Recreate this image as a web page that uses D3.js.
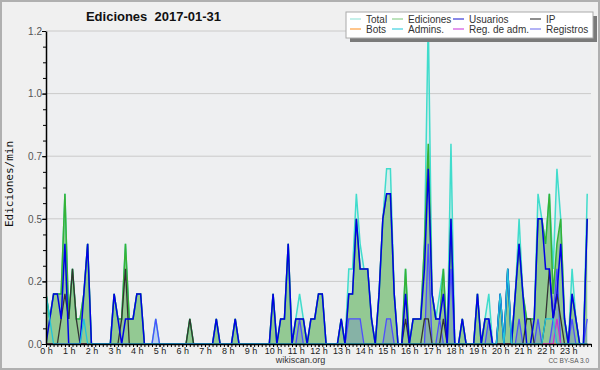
<!DOCTYPE html>
<html>
<head>
<meta charset="utf-8">
<script src="https://cdn.jsdelivr.net/npm/d3@7"></script>
<style>
    body { margin: 0; background: #f0f0f0; }
    svg { display: block; font-family: "Liberation Sans", Arial, sans-serif; }
</style>
</head>
<body>
<div id="chart"></div>
<script>
// edits per minute, 10-minute buckets, one line per hour (0 h .. 23 h)
const total = [
    0.2,0.1,0.2,0.2,0.2,0.6,  0.1,0.3,0.1,0.1,0.2,0.4,  0,0,0,0,0,0,
    0.2,0.1,0.1,0.4,0.1,0.1,  0.2,0.2,0,0,0,0.1,        0,0,0,0,0,0,
    0,0,0.1,0,0,0,            0,0,0,0.1,0,0,            0,0,0.1,0,0,0,
    0,0,0,0,0,0,              0.2,0,0.1,0.1,0.4,0,      0.1,0.2,0.1,0,0.1,0.1,
    0.2,0.2,0,0,0,0,          0.1,0,0.3,0.3,0.6,0.4,    0.3,0.3,0.1,0,0.2,0.5,
    0.7,0.7,0.2,0,0,0.3,      0,0.1,0.1,0.1,0.4,1.3,    0.2,0.1,0.2,0.3,0,0.8,
    0,0,0.1,0,0,0,            0.2,0,0.1,0.2,0,0,        0.2,0,0.3,0,0.2,0.5,
    0.2,0.1,0.1,0.1,0.6,0.5,  0.4,0.6,0.3,0.7,0.5,0.1,  0,0.3,0.1,0,0,0.6
];
const ediciones = [
    0.2,0.1,0.2,0.2,0.2,0.6,  0.1,0.3,0.1,0.1,0.2,0.4,  0,0,0,0,0,0,
    0.2,0.1,0.1,0.4,0.1,0.1,  0.2,0.2,0,0,0,0,          0,0,0,0,0,0,
    0,0,0.1,0,0,0,            0,0,0,0.1,0,0,            0,0,0.1,0,0,0,
    0,0,0,0,0,0,              0.2,0,0.1,0.1,0.4,0,      0.1,0.1,0.1,0,0.1,0.1,
    0.2,0.2,0,0,0,0,          0.1,0,0.2,0.2,0.5,0.3,    0.3,0.3,0.1,0,0.2,0.5,
    0.6,0.6,0.2,0,0,0.3,      0,0.1,0.1,0.1,0.4,0.8,    0.2,0.1,0.1,0.3,0,0.5,
    0,0,0.1,0,0,0,            0.2,0,0.1,0.1,0,0,        0.2,0,0.3,0,0.2,0.4,
    0.2,0.1,0.1,0.1,0.5,0.5,  0.4,0.6,0.2,0.4,0.5,0.1,  0,0.2,0.1,0,0,0.5
];
const usuarios = [
    0,0.1,0.2,0.2,0.1,0.4,    0,0,0,0,0.2,0.4,          0,0,0,0,0,0,
    0.2,0.1,0,0.1,0.1,0.1,    0.2,0.2,0,0,0,0,          0,0,0,0,0,0,
    0,0,0,0,0,0,              0,0,0,0.1,0,0,            0,0,0.1,0,0,0,
    0,0,0,0,0,0,              0.2,0,0.1,0.1,0.4,0,      0.1,0.1,0.1,0,0.1,0.1,
    0.2,0.2,0,0,0,0,          0.1,0,0.2,0.2,0.5,0.3,    0.3,0.3,0.1,0,0.2,0.5,
    0.6,0.6,0.2,0,0,0.2,      0,0.1,0.1,0.1,0.3,0.7,    0.2,0.1,0.1,0.2,0,0.5,
    0,0,0.1,0,0,0,            0.2,0,0.1,0.1,0,0,        0.2,0,0.3,0,0.2,0.4,
    0.2,0,0,0.1,0.5,0.5,      0.3,0.3,0.1,0.2,0.4,0.1,  0,0.2,0.1,0,0,0.5
];
const ip = [
    0,0,0,0,0.1,0.2,          0.1,0.3,0.1,0,0,0,        0,0,0,0,0,0,
    0,0,0.1,0.3,0,0,          0,0,0,0,0,0,              0,0,0,0,0,0,
    0,0,0.1,0,0,0,            0,0,0,0,0,0,              0,0,0,0,0,0,
    0,0,0,0,0,0,              0,0,0,0,0,0,              0,0,0,0,0,0,
    0,0,0,0,0,0,              0,0,0,0,0,0,              0,0,0,0,0,0,
    0,0,0,0,0,0.1,            0,0,0,0,0.1,0.1,          0,0,0,0.1,0,0,
    0,0,0,0,0,0,              0,0,0,0,0,0,              0,0,0,0,0,0,
    0,0.1,0.1,0,0,0,          0.1,0.3,0.1,0.2,0.1,0,    0,0,0,0,0,0
];
const bots = [
    0,0,0,0,0,0, 0,0,0,0,0,0, 0,0,0,0,0,0, 0,0,0,0,0,0, 0,0,0,0,0,0, 0,0,0,0,0,0,
    0,0,0,0,0,0, 0,0,0,0,0,0, 0,0,0,0,0,0, 0,0,0,0,0,0, 0,0,0,0,0,0, 0,0,0,0,0,0,
    0,0,0,0,0,0, 0,0,0,0,0,0, 0,0,0,0,0,0, 0,0,0,0,0,0, 0,0,0,0,0,0, 0,0,0,0,0,0,
    0,0,0,0,0,0, 0,0,0,0,0,0, 0,0,0,0,0,0, 0,0,0,0,0,0, 0,0,0,0,0,0, 0,0,0,0,0,0
];
const admins = [
    0.2,0.1,0,0,0,0,          0,0,0,0,0.1,0,            0,0,0,0,0,0,
    0,0,0,0,0,0,              0,0,0,0,0,0,              0,0,0,0,0,0,
    0,0,0,0,0,0,              0,0,0,0,0,0,              0,0,0,0,0,0,
    0,0,0,0,0,0,              0,0,0,0,0,0,              0,0,0,0,0,0,
    0,0,0,0,0,0,              0,0,0,0,0,0,              0,0,0,0,0,0,
    0,0,0,0,0,0,              0,0,0,0,0,0,              0,0,0,0,0,0,
    0,0,0,0,0,0,              0,0,0,0,0,0,              0.2,0,0.3,0,0,0,
    0,0,0,0,0,0,              0.1,0.1,0.1,0,0,0,        0,0,0,0,0,0
];
const regAdm = [
    0,0,0,0,0,0, 0,0,0,0,0,0, 0,0,0,0,0,0, 0,0,0,0,0,0, 0,0,0,0,0,0, 0,0,0,0,0,0,
    0,0,0,0,0,0, 0,0,0,0,0,0, 0,0,0,0,0,0, 0,0,0,0,0,0, 0,0,0,0,0,0, 0,0,0,0,0,0,
    0,0,0,0,0,0, 0,0,0,0,0,0, 0,0,0,0,0,0, 0,0,0,0,0,0, 0,0,0,0,0,0, 0,0,0,0,0,0,
    0,0,0,0,0,0, 0,0,0,0,0,0, 0,0,0,0,0,0, 0,0,0,0,0,0, 0,0,0,0.1,0,0, 0,0,0,0,0,0
];
const registros = [
    0,0,0,0,0,0,              0,0,0,0,0,0,              0,0,0,0,0,0,
    0,0,0,0,0,0,              0,0,0,0,0,0.1,            0,0,0,0,0,0,
    0,0,0,0,0,0,              0,0,0,0,0,0,              0,0,0,0,0,0,
    0,0,0,0,0,0,              0,0,0,0,0,0,              0,0.1,0,0,0,0,
    0,0,0,0,0,0,              0,0,0.1,0.1,0.1,0.1,      0,0,0,0,0,0,
    0.1,0.1,0,0,0,0,          0,0,0,0,0,0.4,            0,0,0.1,0,0,0.3,
    0,0,0,0,0,0,              0,0,0,0.1,0,0,            0,0,0,0,0,0.1,
    0,0,0,0,0.1,0,            0,0,0.1,0.3,0,0,          0,0.1,0,0,0,0.1
];

const hourLabels = d3.range(24).map(h => h + " h");
const yTicks = [0, 0.25, 0.5, 0.75, 1, 1.25];
const yTickLabels = ["0.0", "0.2", "0.5", "0.7", "1.0", "1.2"];

const legendItems = [
    { name: "Total", color: "#9fe6dc" },
    { name: "Ediciones", color: "#8fd08f" },
    { name: "Usuarios", color: "#3a3ad8" },
    { name: "IP", color: "#444" },
    { name: "Bots", color: "#ffa040" },
    { name: "Admins.", color: "#40d0e0" },
    { name: "Reg. de adm.", color: "#d050e0" },
    { name: "Registros", color: "#8080f0" }
];

const W = 600, H = 370;
const margin = { top: 31, right: 9, bottom: 26, left: 46 };

const svg = d3.select("#chart")
    .append("svg")
    .attr("width", W)
    .attr("height", H);

svg.append("rect")
    .attr("x", 1).attr("y", 1)
    .attr("width", W - 2).attr("height", H - 2)
    .attr("fill", "#f0f0f0")
    .attr("stroke", "#b0b0b0")
    .attr("stroke-width", 2);

const x = d3.scaleLinear().domain([0, 24]).range([margin.left, W - margin.right]);
const y = d3.scaleLinear().domain([0, 1.25]).range([H - margin.bottom, margin.top]);

svg.append("rect")
    .attr("x", x(0)).attr("y", y(1.25))
    .attr("width", x(24) - x(0)).attr("height", y(0) - y(1.25))
    .attr("fill", "#eeeff1");

// grid
svg.append("g")
    .selectAll("line")
    .data(yTicks.slice(1))
    .enter()
    .append("line")
    .attr("x1", x(0)).attr("x2", x(24))
    .attr("y1", d => y(d)).attr("y2", d => y(d))
    .attr("stroke", "#cacaca")
    .attr("stroke-width", 1);

svg.append("clipPath")
    .attr("id", "plot-clip")
    .append("rect")
    .attr("x", x(0)).attr("y", y(1.25))
    .attr("width", x(24) - x(0)).attr("height", y(0) - y(1.25));

const plot = svg.append("g").attr("clip-path", "url(#plot-clip)");

const px = (d, i) => x(i / 6);
const line = d3.line().x(px).y(d => y(d));
const area = d3.area().x(px).y0(y(0)).y1(d => y(d));

plot.append("path").datum(total).attr("d", area).attr("fill", "rgba(64,224,208,0.13)");
plot.append("path").datum(ediciones).attr("d", area).attr("fill", "#93c993");
plot.append("path").datum(registros).attr("d", area).attr("fill", "rgba(80,80,255,0.18)");

const series = [
    { data: total, color: "#40dccc", w: 1.5 },
    { data: ediciones, color: "#36b236", w: 1.5 },
    { data: registros, color: "#4d4dff", w: 1.3 },
    { data: bots, color: "#ff9933", w: 1.3 },
    { data: regAdm, color: "#cc33cc", w: 1.3 },
    { data: ip, color: "#333333", w: 1.3 },
    { data: usuarios, color: "#0000e6", w: 1.5 },
    { data: admins, color: "#20c4dc", w: 1.3 }
];

series.forEach(s => {
    plot.append("path")
        .datum(s.data)
        .attr("d", line)
        .attr("fill", "none")
        .attr("stroke", s.color)
        .attr("stroke-width", s.w)
        .attr("stroke-linejoin", "miter");
});

// y axis
const yMinor = svg.append("g")
    .attr("transform", `translate(${x(0)},0)`)
    .call(d3.axisLeft(y).tickValues(d3.range(0, 21).map(k => k * 0.0625)).tickSize(3).tickSizeOuter(0).tickFormat(""));
yMinor.select(".domain").remove();

const yAxis = svg.append("g")
    .attr("transform", `translate(${x(0)},0)`)
    .call(d3.axisLeft(y).tickValues(yTicks).tickSize(4).tickSizeOuter(0).tickPadding(0)
        .tickFormat((d, i) => yTickLabels[i]));
yAxis.selectAll("text")
    .attr("font-family", "Liberation Sans, Arial, sans-serif")
    .attr("font-size", 10)
    .attr("fill", "#555");
yAxis.select(".domain").attr("stroke-width", 1.5);

// x axis
const xMinor = svg.append("g")
    .attr("transform", `translate(0,${y(0)})`)
    .call(d3.axisBottom(x).tickValues(d3.range(0, 145).map(k => k / 6)).tickSize(3).tickSizeOuter(0).tickFormat(""));
xMinor.select(".domain").attr("stroke-width", 1.5);

const xAxis = svg.append("g")
    .attr("transform", `translate(0,${y(0)})`)
    .call(d3.axisBottom(x).tickValues(d3.range(24)).tickSize(3).tickSizeOuter(0)
        .tickFormat((d, i) => hourLabels[i]));
xAxis.select(".domain").remove();
xAxis.selectAll("text")
    .attr("y", 9.5)
    .attr("dy", 0)
    .attr("font-family", "Liberation Sans, Arial, sans-serif")
    .attr("font-size", 9)
    .attr("fill", "#222");

// titles
svg.append("text")
    .attr("x", 153.5).attr("y", 21)
    .attr("text-anchor", "middle")
    .attr("font-family", "Liberation Sans, Arial, sans-serif")
    .attr("font-weight", "bold")
    .attr("font-size", 13)
    .attr("fill", "#111")
    .text("Ediciones\u00a0\u00a02017-01-31");

svg.append("text")
    .attr("transform", "rotate(-90)")
    .attr("x", -184).attr("y", 13)
    .attr("text-anchor", "middle")
    .attr("font-family", "DejaVu Sans Mono, monospace")
    .attr("font-size", 11)
    .attr("fill", "#111")
    .text("Ediciones/min");

svg.append("text")
    .attr("x", 300.5).attr("y", 363)
    .attr("text-anchor", "middle")
    .attr("font-size", 9)
    .attr("fill", "#333")
    .text("wikiscan.org");

svg.append("text")
    .attr("x", 589).attr("y", 363)
    .attr("text-anchor", "end")
    .attr("font-size", 6.5)
    .attr("fill", "#555")
    .text("CC BY-SA 3.0");

// legend
const lg = svg.append("g");
lg.append("rect")
    .attr("x", 350).attr("y", 16).attr("width", 247).attr("height", 26)
    .attr("fill", "#7a7a7a");
lg.append("rect")
    .attr("x", 346).attr("y", 12).attr("width", 247).attr("height", 26)
    .attr("fill", "#ffffff")
    .attr("stroke", "#aaaaaa")
    .attr("stroke-width", 1);

const colX = [366, 408, 469, 546];
const rowY = [19, 29];
legendItems.forEach((d, i) => {
    const cx = colX[i % 4], cy = rowY[Math.floor(i / 4)];
    lg.append("line")
        .attr("x1", cx - 16).attr("x2", cx - 5)
        .attr("y1", cy).attr("y2", cy)
        .attr("stroke", d.color)
        .attr("stroke-width", 1.2);
    lg.append("text")
        .attr("x", cx).attr("y", cy + 3.6)
        .attr("font-size", 10)
        .attr("fill", "#333")
        .text(d.name);
});
</script>
</body>
</html>
